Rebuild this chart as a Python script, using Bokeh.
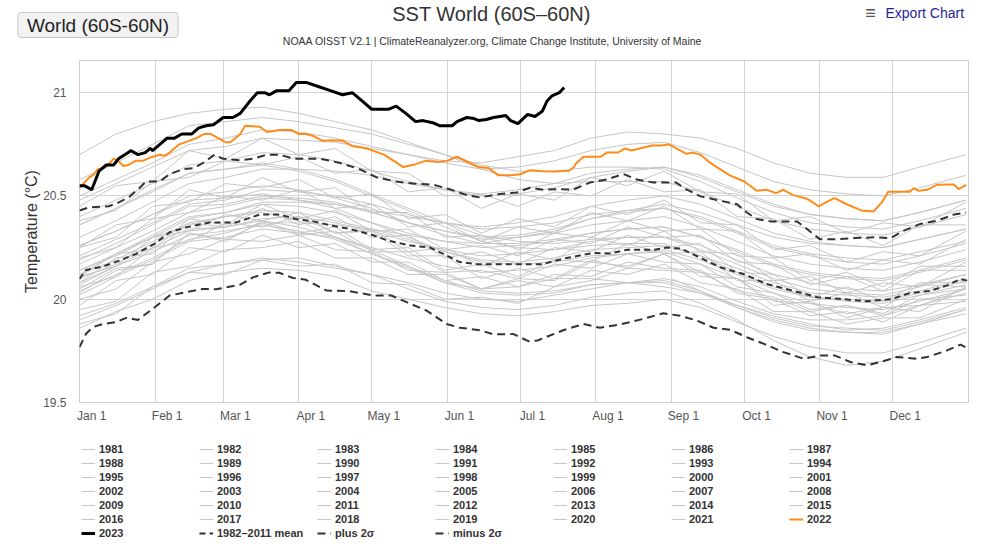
from bokeh.plotting import figure
from bokeh.layouts import column
from bokeh.models import Range1d, FixedTicker, Legend, LegendItem, Label
from bokeh.embed import file_html
from bokeh.resources import INLINE

# ---------------- data ----------------
MONTH_STARTS = [0, 31, 59, 90, 120, 151, 181, 212, 243, 273, 304, 334]
MONTH_LABELS = ["Jan 1", "Feb 1", "Mar 1", "Apr 1", "May 1", "Jun 1",
                "Jul 1", "Aug 1", "Sep 1", "Oct 1", "Nov 1", "Dec 1"]
Y_TICKS = [19.5, 20, 20.5, 21]
Y_TICK_LABELS = ["19.5", "20", "20.5", "21"]

GRAY_DAYS = [0, 15, 30, 45, 60, 75, 90, 105, 120, 135, 150, 165, 180, 195, 210, 225, 240, 255, 270, 285, 300, 315, 330, 345, 364]

D1981 = [243, 255, 270, 285, 300, 315, 330, 345, 364]
Y1981 = [20.10, 20.04, 19.96, 19.90, 19.86, 19.84, 19.83, 19.88, 19.95]
Y1982 = [19.90, 19.97, 20.05, 20.13, 20.17, 20.19, 20.20, 20.16, 20.12, 20.08, 20.03, 20.00, 19.99, 20.02, 20.05, 20.08, 20.10, 20.06, 19.99, 19.93, 19.90, 19.90, 19.92, 19.97, 20.03]
Y1983 = [20.12, 20.22, 20.30, 20.36, 20.40, 20.42, 20.38, 20.30, 20.22, 20.16, 20.08, 20.05, 20.06, 20.10, 20.10, 20.08, 20.06, 20.03, 19.97, 19.92, 19.88, 19.85, 19.86, 19.90, 19.96]
Y1984 = [19.92, 19.98, 20.06, 20.15, 20.17, 20.20, 20.18, 20.15, 20.12, 20.05, 19.99, 19.96, 19.95, 19.97, 20.01, 20.03, 20.04, 19.98, 19.90, 19.80, 19.72, 19.68, 19.70, 19.76, 19.84]
Y1985 = [19.86, 19.94, 20.00, 20.09, 20.13, 20.15, 20.14, 20.11, 20.04, 20.00, 19.96, 19.93, 19.92, 19.94, 19.97, 19.98, 20.00, 19.96, 19.89, 19.82, 19.77, 19.74, 19.74, 19.79, 19.86]
Y1986 = [19.88, 19.93, 20.06, 20.13, 20.12, 20.19, 20.16, 20.17, 20.08, 20.07, 20.00, 20.01, 19.98, 20.06, 20.09, 20.15, 20.14, 20.13, 20.04, 20.01, 19.94, 19.97, 19.93, 20.02, 20.05]
Y1987 = [20.07, 20.16, 20.25, 20.33, 20.35, 20.39, 20.40, 20.37, 20.33, 20.28, 20.24, 20.21, 20.22, 20.24, 20.28, 20.30, 20.30, 20.26, 20.19, 20.12, 20.08, 20.05, 20.04, 20.07, 20.12]
Y1988 = [20.10, 20.17, 20.27, 20.34, 20.35, 20.38, 20.35, 20.30, 20.24, 20.16, 20.09, 20.04, 20.03, 20.04, 20.07, 20.08, 20.08, 20.03, 19.96, 19.89, 19.85, 19.84, 19.84, 19.88, 19.93]
Y1989 = [19.95, 19.99, 20.13, 20.16, 20.24, 20.25, 20.28, 20.20, 20.20, 20.12, 20.12, 20.05, 20.10, 20.09, 20.18, 20.16, 20.22, 20.13, 20.10, 19.99, 19.98, 19.93, 19.96, 19.97, 20.05]
Y1990 = [20.08, 20.20, 20.22, 20.37, 20.35, 20.44, 20.36, 20.40, 20.30, 20.31, 20.20, 20.23, 20.17, 20.25, 20.23, 20.31, 20.25, 20.27, 20.13, 20.12, 20.01, 20.06, 19.99, 20.08, 20.08]
Y1991 = [20.12, 20.19, 20.28, 20.37, 20.40, 20.43, 20.42, 20.38, 20.34, 20.29, 20.23, 20.19, 20.18, 20.20, 20.24, 20.25, 20.26, 20.21, 20.15, 20.08, 20.03, 20.02, 20.01, 20.04, 20.10]
Y1992 = [20.08, 20.16, 20.23, 20.31, 20.33, 20.36, 20.33, 20.29, 20.22, 20.15, 20.08, 20.03, 20.02, 20.03, 20.07, 20.08, 20.09, 20.04, 19.97, 19.91, 19.87, 19.86, 19.85, 19.89, 19.95]
Y1993 = [19.97, 20.09, 20.12, 20.25, 20.23, 20.31, 20.25, 20.27, 20.18, 20.18, 20.09, 20.11, 20.06, 20.12, 20.11, 20.18, 20.15, 20.14, 20.03, 20.00, 19.92, 19.94, 19.89, 19.97, 19.99]
Y1994 = [20.02, 20.11, 20.19, 20.28, 20.30, 20.34, 20.32, 20.30, 20.25, 20.20, 20.16, 20.13, 20.14, 20.16, 20.20, 20.22, 20.24, 20.19, 20.12, 20.05, 20.01, 20.00, 19.99, 20.03, 20.09]
Y1995 = [20.11, 20.16, 20.30, 20.33, 20.41, 20.38, 20.42, 20.32, 20.33, 20.21, 20.21, 20.10, 20.15, 20.10, 20.19, 20.15, 20.22, 20.11, 20.10, 19.97, 19.99, 19.91, 19.96, 19.94, 20.06]
Y1996 = [20.00, 20.05, 20.18, 20.22, 20.29, 20.28, 20.31, 20.24, 20.23, 20.14, 20.13, 20.05, 20.09, 20.06, 20.14, 20.12, 20.17, 20.08, 20.05, 19.94, 19.94, 19.88, 19.91, 19.91, 20.00]
Y1997 = [20.04, 20.12, 20.20, 20.29, 20.32, 20.37, 20.37, 20.36, 20.34, 20.31, 20.28, 20.27, 20.30, 20.33, 20.39, 20.43, 20.46, 20.42, 20.36, 20.30, 20.27, 20.26, 20.25, 20.29, 20.34]
Y1998 = [20.36, 20.44, 20.53, 20.61, 20.63, 20.65, 20.62, 20.57, 20.50, 20.43, 20.35, 20.28, 20.25, 20.24, 20.26, 20.27, 20.27, 20.21, 20.13, 20.06, 20.01, 19.99, 19.98, 20.02, 20.07]
Y1999 = [20.05, 20.15, 20.17, 20.32, 20.29, 20.37, 20.31, 20.33, 20.23, 20.23, 20.13, 20.14, 20.10, 20.17, 20.15, 20.22, 20.18, 20.17, 20.06, 20.03, 19.95, 19.97, 19.92, 20.00, 20.02]
Y2000 = [20.03, 20.14, 20.17, 20.32, 20.28, 20.38, 20.32, 20.35, 20.24, 20.25, 20.14, 20.17, 20.11, 20.19, 20.18, 20.27, 20.22, 20.23, 20.09, 20.09, 19.99, 20.03, 19.96, 20.07, 20.06]
Y2001 = [20.14, 20.22, 20.31, 20.40, 20.42, 20.46, 20.45, 20.42, 20.37, 20.32, 20.28, 20.25, 20.26, 20.28, 20.32, 20.34, 20.35, 20.30, 20.23, 20.16, 20.12, 20.10, 20.09, 20.13, 20.19]
Y2002 = [20.20, 20.25, 20.39, 20.42, 20.50, 20.48, 20.53, 20.44, 20.46, 20.35, 20.37, 20.28, 20.35, 20.32, 20.42, 20.38, 20.45, 20.34, 20.33, 20.20, 20.22, 20.14, 20.19, 20.17, 20.29]
Y2003 = [20.26, 20.33, 20.41, 20.50, 20.52, 20.55, 20.53, 20.49, 20.44, 20.37, 20.31, 20.27, 20.27, 20.29, 20.32, 20.34, 20.35, 20.30, 20.24, 20.17, 20.13, 20.11, 20.10, 20.14, 20.20]
Y2004 = [20.19, 20.27, 20.36, 20.45, 20.46, 20.50, 20.49, 20.47, 20.42, 20.37, 20.33, 20.29, 20.30, 20.32, 20.36, 20.38, 20.40, 20.35, 20.28, 20.21, 20.17, 20.15, 20.14, 20.18, 20.24]
Y2005 = [20.25, 20.36, 20.39, 20.53, 20.49, 20.59, 20.52, 20.54, 20.42, 20.42, 20.30, 20.31, 20.24, 20.32, 20.30, 20.38, 20.33, 20.34, 20.21, 20.20, 20.09, 20.13, 20.06, 20.16, 20.16]
Y2006 = [20.17, 20.25, 20.33, 20.42, 20.45, 20.49, 20.48, 20.46, 20.42, 20.37, 20.33, 20.30, 20.31, 20.34, 20.39, 20.42, 20.44, 20.40, 20.33, 20.26, 20.22, 20.20, 20.19, 20.23, 20.28]
Y2007 = [20.26, 20.33, 20.41, 20.48, 20.49, 20.51, 20.48, 20.44, 20.37, 20.30, 20.23, 20.18, 20.17, 20.18, 20.21, 20.22, 20.23, 20.17, 20.10, 20.03, 19.98, 19.96, 19.95, 19.99, 20.05]
Y2008 = [20.06, 20.11, 20.25, 20.28, 20.37, 20.35, 20.40, 20.32, 20.34, 20.23, 20.25, 20.16, 20.23, 20.19, 20.30, 20.26, 20.33, 20.23, 20.22, 20.09, 20.11, 20.03, 20.08, 20.06, 20.18]
Y2009 = [20.14, 20.21, 20.30, 20.39, 20.42, 20.47, 20.47, 20.46, 20.43, 20.40, 20.37, 20.35, 20.37, 20.40, 20.45, 20.48, 20.50, 20.46, 20.39, 20.32, 20.28, 20.26, 20.25, 20.29, 20.34]
Y2010 = [20.36, 20.44, 20.52, 20.61, 20.63, 20.66, 20.63, 20.58, 20.51, 20.44, 20.37, 20.31, 20.28, 20.27, 20.29, 20.30, 20.30, 20.24, 20.17, 20.10, 20.05, 20.03, 20.02, 20.06, 20.12]
Y2011 = [20.11, 20.22, 20.24, 20.39, 20.36, 20.46, 20.39, 20.43, 20.33, 20.34, 20.24, 20.26, 20.21, 20.29, 20.27, 20.35, 20.30, 20.31, 20.18, 20.17, 20.07, 20.11, 20.04, 20.14, 20.14]
Y2012 = [20.21, 20.29, 20.37, 20.46, 20.48, 20.53, 20.52, 20.50, 20.46, 20.41, 20.37, 20.34, 20.35, 20.37, 20.41, 20.43, 20.44, 20.39, 20.32, 20.25, 20.21, 20.18, 20.17, 20.21, 20.27]
Y2013 = [20.25, 20.30, 20.45, 20.47, 20.56, 20.54, 20.58, 20.49, 20.51, 20.39, 20.41, 20.32, 20.39, 20.35, 20.45, 20.41, 20.48, 20.37, 20.36, 20.24, 20.26, 20.18, 20.23, 20.21, 20.33]
Y2014 = [20.30, 20.38, 20.47, 20.56, 20.59, 20.63, 20.63, 20.62, 20.60, 20.56, 20.53, 20.51, 20.53, 20.56, 20.61, 20.63, 20.64, 20.60, 20.53, 20.46, 20.41, 20.39, 20.38, 20.42, 20.48]
Y2015 = [20.48, 20.56, 20.64, 20.72, 20.74, 20.78, 20.77, 20.76, 20.73, 20.70, 20.67, 20.66, 20.69, 20.72, 20.78, 20.81, 20.80, 20.78, 20.73, 20.66, 20.61, 20.59, 20.59, 20.64, 20.70]
Y2016 = [20.70, 20.80, 20.86, 20.90, 20.92, 20.93, 20.90, 20.86, 20.82, 20.76, 20.70, 20.63, 20.58, 20.56, 20.57, 20.57, 20.57, 20.52, 20.45, 20.38, 20.34, 20.32, 20.31, 20.35, 20.41]
Y2017 = [20.45, 20.55, 20.57, 20.72, 20.68, 20.78, 20.70, 20.73, 20.62, 20.61, 20.50, 20.51, 20.45, 20.52, 20.50, 20.58, 20.52, 20.53, 20.40, 20.39, 20.29, 20.33, 20.26, 20.36, 20.36]
Y2018 = [20.38, 20.43, 20.57, 20.59, 20.67, 20.65, 20.69, 20.61, 20.63, 20.52, 20.54, 20.44, 20.51, 20.48, 20.59, 20.55, 20.62, 20.52, 20.51, 20.38, 20.40, 20.32, 20.37, 20.35, 20.47]
Y2019 = [20.50, 20.58, 20.66, 20.75, 20.78, 20.82, 20.81, 20.78, 20.74, 20.70, 20.66, 20.63, 20.64, 20.67, 20.72, 20.75, 20.76, 20.71, 20.64, 20.57, 20.53, 20.51, 20.50, 20.54, 20.60]
Y2020 = [20.58, 20.66, 20.75, 20.84, 20.86, 20.88, 20.86, 20.83, 20.80, 20.75, 20.70, 20.65, 20.62, 20.62, 20.64, 20.64, 20.63, 20.57, 20.49, 20.42, 20.37, 20.35, 20.34, 20.38, 20.44]
Y2021 = [20.40, 20.48, 20.56, 20.65, 20.67, 20.71, 20.70, 20.67, 20.62, 20.57, 20.53, 20.50, 20.51, 20.54, 20.59, 20.62, 20.64, 20.59, 20.52, 20.45, 20.41, 20.39, 20.38, 20.42, 20.48]

D2022 = [0, 2, 4, 6, 7.5, 10, 12, 14, 15.5, 18, 20, 23, 26, 29, 33, 35, 37, 41, 45, 48, 51, 54, 57, 60, 62, 66, 68, 74, 77, 82, 87, 90, 93, 96, 100, 104, 108, 112, 118, 125, 129, 133, 138, 142, 147, 151, 155, 159, 164, 168, 172, 177, 181, 185, 190, 195, 201, 203, 204, 207, 214, 216.5, 221, 224, 226.5, 230, 235, 239, 242, 245, 249, 252, 255, 259, 263, 267, 273, 278, 282, 286, 289, 293, 299, 303.5, 307, 310, 315, 321, 326, 329.5, 332, 336, 341, 342.5, 344.5, 348, 352, 357.6, 359, 361, 364]
Y2022 = [20.54, 20.565, 20.59, 20.605, 20.63, 20.635, 20.655, 20.68, 20.675, 20.645, 20.65, 20.67, 20.67, 20.686, 20.70, 20.695, 20.71, 20.75, 20.767, 20.78, 20.80, 20.80, 20.78, 20.76, 20.76, 20.80, 20.84, 20.835, 20.81, 20.82, 20.82, 20.80, 20.80, 20.79, 20.767, 20.77, 20.767, 20.742, 20.73, 20.70, 20.67, 20.64, 20.654, 20.67, 20.665, 20.67, 20.69, 20.667, 20.64, 20.635, 20.60, 20.60, 20.605, 20.625, 20.62, 20.618, 20.622, 20.64, 20.66, 20.69, 20.69, 20.71, 20.71, 20.73, 20.72, 20.73, 20.744, 20.744, 20.75, 20.73, 20.705, 20.71, 20.70, 20.66, 20.63, 20.60, 20.57, 20.525, 20.53, 20.514, 20.53, 20.504, 20.485, 20.45, 20.473, 20.49, 20.46, 20.43, 20.425, 20.47, 20.52, 20.52, 20.52, 20.538, 20.525, 20.53, 20.554, 20.556, 20.556, 20.533, 20.554]

D2023 = [0, 2, 5, 8, 11, 14, 16, 20, 21, 24, 27, 29, 30, 33, 36, 39, 42, 44, 46, 49, 52, 55, 59, 63, 66, 70, 73, 76, 78, 81, 86, 89, 93, 98, 103, 108, 112, 116, 120, 127, 130, 134, 138, 141, 145, 148, 153, 155, 159, 162, 164, 167, 170, 175, 177, 180, 184, 187, 190, 192, 194, 197, 199]
Y2023 = [20.55, 20.55, 20.53, 20.62, 20.65, 20.65, 20.68, 20.71, 20.72, 20.70, 20.71, 20.73, 20.72, 20.75, 20.78, 20.78, 20.80, 20.80, 20.80, 20.83, 20.84, 20.845, 20.88, 20.88, 20.90, 20.96, 21.00, 21.00, 20.99, 21.01, 21.01, 21.05, 21.05, 21.03, 21.01, 20.99, 21.00, 20.96, 20.92, 20.92, 20.935, 20.90, 20.86, 20.865, 20.855, 20.84, 20.84, 20.86, 20.88, 20.875, 20.865, 20.87, 20.88, 20.89, 20.865, 20.85, 20.895, 20.885, 20.91, 20.96, 20.985, 21.00, 21.025]

D_MEAN = [0, 2.7, 9.6, 16.4, 23.3, 30.8, 37, 43.8, 53.4, 64.4, 74, 82, 89, 96, 104, 111, 119, 127, 136, 144, 151, 156, 163, 190, 200, 211, 218, 225, 236, 241, 247, 255, 263, 273, 282, 290, 303, 312, 323, 333, 341, 349, 356, 361.7, 364.5]
Y_MEAN = [20.098, 20.142, 20.158, 20.187, 20.22, 20.268, 20.324, 20.348, 20.372, 20.372, 20.41, 20.41, 20.388, 20.377, 20.356, 20.34, 20.316, 20.283, 20.26, 20.25, 20.21, 20.18, 20.17, 20.17, 20.20, 20.224, 20.222, 20.24, 20.24, 20.25, 20.245, 20.20, 20.155, 20.12, 20.074, 20.05, 20.01, 20.002, 19.99, 20.00, 20.03, 20.04, 20.066, 20.098, 20.09]

D_PLUS = [0, 4, 12, 16.4, 20.5, 24.7, 27.4, 33, 37, 42.5, 47, 50.7, 55.5, 59, 66, 71, 77, 82, 88, 99, 107, 115, 122, 130, 137, 145, 152, 159, 164.4, 172.6, 179.5, 185, 190.4, 197, 202.5, 209.6, 216.5, 223.3, 228.8, 235.6, 245, 249, 255, 263, 270, 274, 278, 283.6, 294.6, 298.7, 304, 310, 318, 327, 333, 338, 345, 352, 359, 364]
Y_PLUS = [20.43, 20.445, 20.45, 20.47, 20.496, 20.54, 20.57, 20.57, 20.606, 20.63, 20.635, 20.66, 20.70, 20.68, 20.673, 20.68, 20.70, 20.70, 20.68, 20.68, 20.66, 20.63, 20.59, 20.57, 20.56, 20.555, 20.533, 20.504, 20.493, 20.51, 20.517, 20.54, 20.53, 20.533, 20.53, 20.565, 20.58, 20.606, 20.58, 20.565, 20.565, 20.533, 20.498, 20.477, 20.46, 20.42, 20.388, 20.377, 20.377, 20.34, 20.29, 20.29, 20.296, 20.30, 20.296, 20.33, 20.364, 20.38, 20.41, 20.42]

D_MINUS = [0, 2.7, 5.5, 9.6, 15, 19.2, 24, 30, 37, 43.8, 50.7, 56, 60.3, 65.8, 71.2, 78, 82, 87.7, 93, 101.4, 111, 120.5, 128, 134.3, 142.5, 150.7, 156.2, 164.4, 170, 175.4, 178, 184.3, 188, 198.6, 206.9, 213.7, 222, 231.5, 239.7, 246.6, 253.5, 260.3, 267.2, 274, 281, 289, 297.3, 304.2, 310, 316.5, 323.3, 328.8, 335.7, 343.8, 348, 356.2, 361.7, 365]
Y_MINUS = [19.768, 19.833, 19.865, 19.88, 19.889, 19.91, 19.90, 19.953, 20.018, 20.034, 20.05, 20.048, 20.058, 20.07, 20.106, 20.13, 20.128, 20.103, 20.094, 20.042, 20.039, 20.018, 20.018, 19.986, 19.945, 19.88, 19.862, 19.85, 19.83, 19.83, 19.832, 19.797, 19.80, 19.85, 19.88, 19.862, 19.878, 19.905, 19.932, 19.92, 19.897, 19.862, 19.852, 19.816, 19.784, 19.744, 19.712, 19.728, 19.728, 19.696, 19.68, 19.696, 19.72, 19.712, 19.72, 19.752, 19.78, 19.76]

GRAY_SERIES = [
    ("1981", D1981, Y1981), ("1982", GRAY_DAYS, Y1982), ("1983", GRAY_DAYS, Y1983),
    ("1984", GRAY_DAYS, Y1984), ("1985", GRAY_DAYS, Y1985), ("1986", GRAY_DAYS, Y1986),
    ("1987", GRAY_DAYS, Y1987), ("1988", GRAY_DAYS, Y1988), ("1989", GRAY_DAYS, Y1989),
    ("1990", GRAY_DAYS, Y1990), ("1991", GRAY_DAYS, Y1991), ("1992", GRAY_DAYS, Y1992),
    ("1993", GRAY_DAYS, Y1993), ("1994", GRAY_DAYS, Y1994), ("1995", GRAY_DAYS, Y1995),
    ("1996", GRAY_DAYS, Y1996), ("1997", GRAY_DAYS, Y1997), ("1998", GRAY_DAYS, Y1998),
    ("1999", GRAY_DAYS, Y1999), ("2000", GRAY_DAYS, Y2000), ("2001", GRAY_DAYS, Y2001),
    ("2002", GRAY_DAYS, Y2002), ("2003", GRAY_DAYS, Y2003), ("2004", GRAY_DAYS, Y2004),
    ("2005", GRAY_DAYS, Y2005), ("2006", GRAY_DAYS, Y2006), ("2007", GRAY_DAYS, Y2007),
    ("2008", GRAY_DAYS, Y2008), ("2009", GRAY_DAYS, Y2009), ("2010", GRAY_DAYS, Y2010),
    ("2011", GRAY_DAYS, Y2011), ("2012", GRAY_DAYS, Y2012), ("2013", GRAY_DAYS, Y2013),
    ("2014", GRAY_DAYS, Y2014), ("2015", GRAY_DAYS, Y2015), ("2016", GRAY_DAYS, Y2016),
    ("2017", GRAY_DAYS, Y2017), ("2018", GRAY_DAYS, Y2018), ("2019", GRAY_DAYS, Y2019),
    ("2020", GRAY_DAYS, Y2020), ("2021", GRAY_DAYS, Y2021),
]

FONT = "Liberation Sans"
W = 1000
GRAY_STYLE = dict(line_color="#c6c6c6", line_width=1)
Y2022_STYLE = dict(line_color="#ff8c1a", line_width=2)
Y2023_STYLE = dict(line_color="#000000", line_width=3)
MEAN_STYLE = dict(line_color="#333333", line_width=2, line_dash="6 4")
SIGMA_STYLE = dict(line_color="#333333", line_width=2, line_dash="8 5")
NAN = float("nan")

# ---------------- header ----------------
HEAD_H = 59
head = figure(width=W, height=HEAD_H, x_range=Range1d(0, 1), y_range=Range1d(0, 1),
              output_backend="svg", toolbar_location=None, x_axis_type=None, y_axis_type=None,
              min_border=0, outline_line_color=None, background_fill_color="white",
              border_fill_color="white", frame_align=False)
head.grid.visible = False

def hy(y):
    return HEAD_H - y

head.add_layout(Label(x=491, y=hy(13), x_units="screen", y_units="screen",
                      text="SST World (60S–60N)", text_align="center", text_baseline="middle",
                      text_font=FONT, text_font_size="20px", text_color="#333333"))
head.add_layout(Label(x=492, y=hy(40), x_units="screen", y_units="screen",
                      text="NOAA OISST V2.1 | ClimateReanalyzer.org, Climate Change Institute, University of Maine",
                      text_align="center", text_baseline="middle",
                      text_font=FONT, text_font_size="10.5px", text_color="#333333"))
head.add_layout(Label(x=97.5, y=hy(24.5), x_units="screen", y_units="screen",
                      text="World (60S-60N)", text_align="center", text_baseline="middle",
                      text_font=FONT, text_font_size="19px", text_color="#222222",
                      background_fill_color="#f2f2f2", border_line_color="#c8c8c8",
                      border_radius=3, padding=(9, 2)))
head.add_layout(Label(x=870, y=hy(12.5), x_units="screen", y_units="screen",
                      text="≡", text_align="center", text_baseline="middle",
                      text_font=FONT, text_font_size="18px", text_color="#555555"))
head.add_layout(Label(x=885, y=hy(12.5), x_units="screen", y_units="screen",
                      text="Export Chart", text_align="left", text_baseline="middle",
                      text_font=FONT, text_font_size="14px", text_color="#1f1f99"))

# ---------------- main chart ----------------
p = figure(width=W, height=378, x_range=Range1d(0, 365), y_range=Range1d(19.5, 21.156),
           output_backend="svg", toolbar_location=None,
           min_border_left=79, min_border_right=32, min_border_top=1, min_border_bottom=35,
           background_fill_color="white", border_fill_color="white", frame_align=False)
p.outline_line_color = "#cccccc"

p.xaxis.ticker = FixedTicker(ticks=[d + 5 for d in MONTH_STARTS])
p.xaxis.major_label_overrides = {d + 5: lab for d, lab in zip(MONTH_STARTS, MONTH_LABELS)}
p.xgrid.ticker = FixedTicker(ticks=MONTH_STARTS)
p.yaxis.ticker = FixedTicker(ticks=Y_TICKS)
p.yaxis.major_label_overrides = {t: lab for t, lab in zip(Y_TICKS, Y_TICK_LABELS)}
for ax in (p.xaxis[0], p.yaxis[0]):
    ax.axis_line_color = None
    ax.major_tick_out = 0
    ax.major_tick_in = 0
    ax.minor_tick_out = 0
    ax.minor_tick_in = 0
    ax.major_label_text_font = FONT
    ax.major_label_text_font_size = "12px"
    ax.major_label_text_color = "#555555"
p.xaxis.major_label_standoff = 6
p.yaxis.major_label_standoff = 13
p.yaxis.axis_label = "Temperature (°C)"
p.yaxis.axis_label_text_font = FONT
p.yaxis.axis_label_text_font_size = "16px"
p.yaxis.axis_label_text_font_style = "normal"
p.yaxis.axis_label_text_color = "#333333"
p.yaxis.axis_label_standoff = 0
p.grid.grid_line_color = "#d4d4d4"
p.grid.grid_line_width = 1

for name, dd, vv in GRAY_SERIES:
    p.line(dd, vv, **GRAY_STYLE)
p.line(D_MINUS, Y_MINUS, **SIGMA_STYLE)
p.line(D_PLUS, Y_PLUS, **SIGMA_STYLE)
p.line(D_MEAN, Y_MEAN, **MEAN_STYLE)
p.line(D2022, Y2022, **Y2022_STYLE)
p.line(D2023, Y2023, **Y2023_STYLE)

# ---------------- legend strip ----------------
LEG_H = 557 - 59 - 378
leg = figure(width=W, height=LEG_H, x_range=Range1d(0, 1), y_range=Range1d(0, 1),
             output_backend="svg", toolbar_location=None, x_axis_type=None, y_axis_type=None,
             min_border=0, outline_line_color=None, background_fill_color="white",
             border_fill_color="white", frame_align=False)
leg.grid.visible = False

items = []
for name, dd, vv in GRAY_SERIES:
    r = leg.line([NAN], [NAN], **GRAY_STYLE)
    items.append(LegendItem(label=name, renderers=[r]))
for name, style in [("2022", Y2022_STYLE), ("2023", Y2023_STYLE), ("1982–2011 mean", MEAN_STYLE),
                    ("plus 2σ", SIGMA_STYLE), ("minus 2σ", SIGMA_STYLE)]:
    r = leg.line([NAN], [NAN], **style)
    items.append(LegendItem(label=name, renderers=[r]))

legend = Legend(items=items, orientation="horizontal", ncols=7, location=(81, 18),
                glyph_width=14, glyph_height=12, label_width=98, label_height=12,
                label_standoff=4, spacing=2, padding=4, margin=0,
                border_line_color=None, background_fill_alpha=0,
                label_text_font=FONT, label_text_font_size="11px",
                label_text_font_style="bold", label_text_color="#333333")
leg.add_layout(legend, "center")

layout = column(head, p, leg, spacing=0)
open("out.html", "w").write(file_html(layout, INLINE))
